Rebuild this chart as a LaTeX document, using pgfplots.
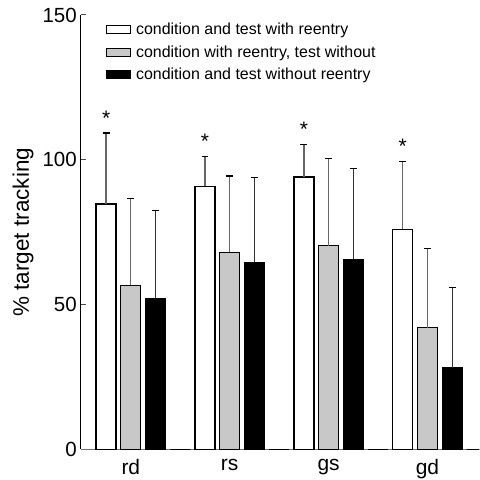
\documentclass[border=0pt]{standalone}
\usepackage{fontspec}
\setmainfont{Liberation Sans}
\usepackage{pgfplots}
\pgfplotsset{compat=1.18}
\definecolor{barg}{RGB}{200,200,200}
\begin{document}
\begin{tikzpicture}
\begin{axis}[
  scale only axis, width=399pt, height=435pt,
  xmin=-0.505, xmax=3.525, ymin=0, ymax=150,
  axis x line*=bottom, axis y line*=left,
  x axis line style={black!55, line width=1.2pt, -},
  y axis line style={black, line width=1pt, -},
  xtick={0,1,2,3}, xticklabels={rd,rs,gs,gd},
  major x tick style={draw=none},
  ytick={0,50,100,150},
  tick align=inside, major tick length=5pt,
  major y tick style={black!70, line width=1pt},
  /pgf/number format/assume math mode=true,
  yticklabel style={font=\fontsize{20.5}{20.5}\selectfont, inner sep=0pt, xshift=-4pt},
  xticklabel style={font=\fontsize{21}{21}\selectfont, inner sep=0pt, yshift=-10pt},
  ylabel={\% target tracking},
  ylabel style={font=\fontsize{22.5}{26}\selectfont, at={(axis description cs:-0.145,0.5)}, anchor=center},
  legend style={draw=none, fill=none, at={(0.0627,0.986)}, anchor=north west,
    font=\fontsize{16}{18}\selectfont, nodes={inner sep=2pt}, row sep=5.5pt,
    cells={anchor=west}, inner sep=0pt,
    /tikz/every odd column/.append style={column sep=3pt}},
  legend image code/.code={\draw[#1, line width=1pt] (0pt,-4pt) rectangle (24pt,4pt);},
]
\addplot[ybar, bar width=20pt, bar shift=0pt, fill=white, draw=black, line width=1.3pt,
  error bars/.cd, y dir=plus, y explicit,
  error bar style={line width=1.3pt, black!60},
  error mark options={rotate=90, mark size=3.5pt, line width=1.3pt, black}]
  coordinates {(-0.25,84.7) +- (0,24.6) (0.75,90.8) +- (0,10.3) (1.75,94.1) +- (0,11.3) (2.75,76.0) +- (0,23.4)};
\addlegendentry{condition and test with reentry}
\addplot[ybar, bar width=20pt, bar shift=0pt, fill=barg, draw=black, line width=1.3pt,
  error bars/.cd, y dir=plus, y explicit,
  error bar style={line width=1.3pt, black!60},
  error mark options={rotate=90, mark size=3.5pt, line width=1.3pt, black}]
  coordinates {(0,56.7) +- (0,29.9) (1,68.0) +- (0,26.4) (2,70.4) +- (0,30.0) (3,42.0) +- (0,27.4)};
\addlegendentry{condition with reentry, test without}
\addplot[ybar, bar width=20pt, bar shift=0pt, fill=black, draw=black, line width=1.3pt,
  error bars/.cd, y dir=plus, y explicit,
  error bar style={line width=1.3pt, black!80},
  error mark options={rotate=90, mark size=3.5pt, line width=1.3pt, black}]
  coordinates {(0.25,52.2) +- (0,30.4) (1.25,64.6) +- (0,29.4) (2.25,65.6) +- (0,31.4) (3.25,28.2) +- (0,27.6)};
\addlegendentry{condition and test without reentry}
\addplot[ybar, bar width=20pt, bar shift=0pt, fill=black, draw=black, line width=1.3pt, forget plot]
  coordinates {(0.5,0) (1.5,0) (2.5,0) (3.5,0)};
\addplot[draw=none, mark=none, forget plot, nodes near coords={*},
  every node near coord/.append style={anchor=center, font=\fontsize{21}{21}\selectfont, yshift=-5pt}]
  coordinates {(-0.25,116.1) (0.75,108.0) (1.75,112.1) (2.75,106.3)};
\end{axis}
\path ([xshift=-81pt,yshift=-29pt]current axis.south west) rectangle ([yshift=15pt]current axis.north east);
\end{tikzpicture}
\end{document}
